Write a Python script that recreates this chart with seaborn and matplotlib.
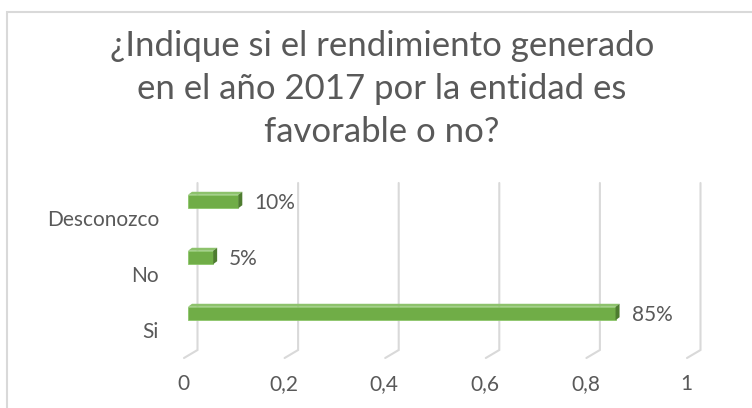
import matplotlib
matplotlib.use("Agg")
import matplotlib.pyplot as plt
from matplotlib.patches import Polygon, Rectangle
from matplotlib.transforms import ScaledTranslation
import seaborn as sns

# Survey answers (top to bottom) and their shares
categories = ["Desconozco", "No", "Si"]
shares = [0.10, 0.05, 0.85]
tick_values = [0, 0.2, 0.4, 0.6, 0.8, 1.0]
tick_labels = ["0", "0,2", "0,4", "0,6", "0,8", "1"]
title = "¿Indique si el rendimiento generado\nen el año 2017 por la entidad es\nfavorable o no?"

sns.set_theme(style="white")
plt.rcParams["font.family"] = ["Lato", "DejaVu Sans"]

W, H, DPI = 752, 408, 100
fig = plt.figure(figsize=(W / DPI, H / DPI), dpi=DPI)
fig.patch.set_facecolor("white")

# chart frame (open on the right and bottom)
fig.patches.append(Rectangle((7 / W, -0.2), 1.2, 1.2 - 12 / H,
                             transform=fig.transFigure, fill=False,
                             edgecolor="#D9D9D9", linewidth=1.5))

fig.text(382 / W, 1 - 89 / H, title, ha="center", va="center",
         fontsize=25, color="#595959", linespacing=1.42)

# axes placed in pixels
ax_l, ax_r, ax_t, ax_b = 170, 720, 180, 362
ax = fig.add_axes([ax_l / W, 1 - ax_b / H, (ax_r - ax_l) / W, (ax_b - ax_t) / H])

px_x = 503.0   # pixels per unit on x
px_y = 56.0    # pixels per category
x0_px = 188.0
y0_px = 201.5

GREEN = "#70AD47"
sns.barplot(x=shares, y=categories, order=categories, orient="h",
            color=GREEN, width=0.24, saturation=1, ax=ax,
            edgecolor="#8CC66A", linewidth=0.6)

ax.set_xlim(-(x0_px - ax_l) / px_x, (ax_r - x0_px) / px_x)
ax.set_ylim((ax_b - y0_px) / px_y, (ax_t - y0_px) / px_y)

# perspective gridlines: back wall line plus floor edge
top_y = (183 - y0_px) / px_y
wall_y = (350 - y0_px) / px_y
floor_y = (358 - y0_px) / px_y
back_dx = 9.5 / px_x
front_dx = -4 / px_x
for t in tick_values:
    ax.plot([t + back_dx, t + back_dx, t + front_dx],
            [top_y, wall_y, floor_y], color="#D9D9D9", lw=1.5,
            zorder=0, solid_joinstyle="miter")

# extruded top and side faces of each bar
ddx = 4 / px_x
ddy = -3 / px_y
hw = 0.12
for i, v in enumerate(shares):
    top = Polygon([(0, i - hw), (ddx, i - hw + ddy), (v + ddx, i - hw + ddy), (v, i - hw)],
                  closed=True, facecolor="#8DC26C", edgecolor="none", zorder=3)
    side = Polygon([(v, i - hw), (v + ddx, i - hw + ddy), (v + ddx, i + hw + ddy), (v, i + hw)],
                   closed=True, facecolor="#4E7C30", edgecolor="none", zorder=3)
    ax.add_patch(top)
    ax.add_patch(side)
    lbl = ax.text(v, i, f"{v * 100:.0f}%", ha="left", va="center",
                  fontsize=15, color="#595959")
    lbl.set_transform(ax.transData + ScaledTranslation(16 / DPI, -1.5 / DPI, fig.dpi_scale_trans))

for p in ax.patches:
    p.set_zorder(2)

ax.set_xticks(tick_values)
ax.set_xticklabels(tick_labels)
ax.tick_params(axis="x", length=0, pad=9, labelsize=15, labelcolor="#595959")
ax.tick_params(axis="y", length=0, pad=8, labelsize=15, labelcolor="#595959")
for lab in ax.get_xticklabels():
    lab.set_transform(lab.get_transform() + ScaledTranslation(-5 / DPI, 0, fig.dpi_scale_trans))
for lab in ax.get_yticklabels():
    lab.set_transform(lab.get_transform() + ScaledTranslation(0, -17 / DPI, fig.dpi_scale_trans))

ax.set_xlabel("")
ax.set_ylabel("")
for s in ax.spines.values():
    s.set_visible(False)
ax.set_facecolor("none")

fig.savefig("out.png", dpi=DPI)
